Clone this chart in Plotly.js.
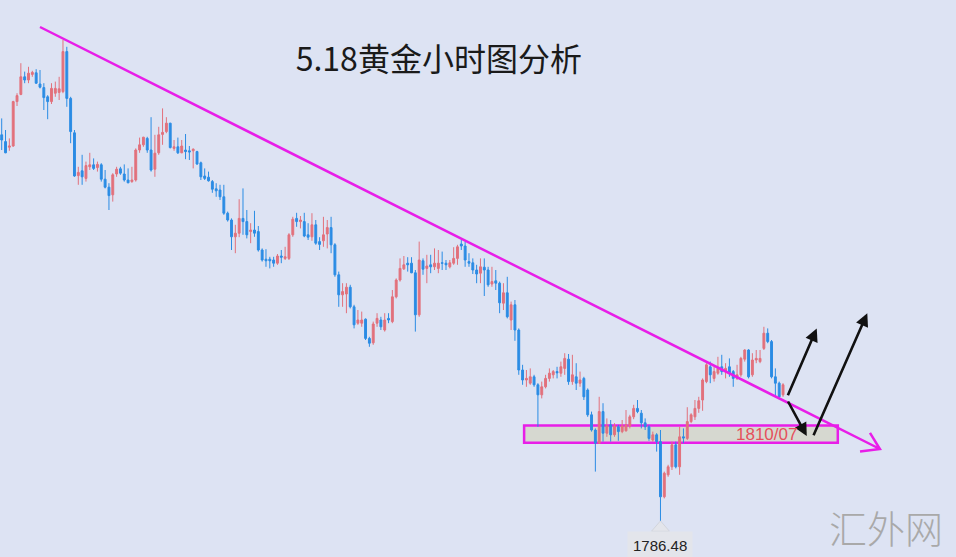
<!DOCTYPE html>
<html>
<head>
<meta charset="utf-8">
<script src="https://cdn.plot.ly/plotly-3.0.1.min.js"></script>
<style>
  html, body { margin: 0; padding: 0; background: #dde3f3; }
  #chart { width: 956px; height: 557px; }
</style>
</head>
<body>
<div id="chart"></div>
<script>
// Gold, hourly bars (bar index along x)
const barOpen = [
  1883.0,1881.3,1879.9,1880.2,1891.3,1893.1,1897.5,1896.7,1898.1,1898.5,
  1895.7,1894.8,1892.5,1891.3,1893.4,1893.6,1893.8,1903.8,1892.1,1883.5,
  1872.8,1874.0,1872.1,1875.0,1875.5,1874.8,1875.5,1871.9,1869.9,1868.0,
  1873.2,1874.5,1873.2,1871.7,1871.3,1871.7,1879.2,1880.5,1882.1,1879.2,
  1874.4,1878.5,1883.1,1883.8,1885.9,1879.6,1880.0,1878.5,1879.2,1879.0,
  1879.0,1878.8,1876.0,1872.7,1872.4,1871.3,1869.5,1869.2,1867.5,1863.4,
  1861.7,1857.5,1858.4,1862.1,1861.3,1858.8,1859.2,1858.8,1854.2,1851.9,
  1851.9,1851.7,1850.9,1852.7,1852.1,1852.1,1858.0,1862.1,1861.3,1861.3,
  1858.0,1857.5,1860.5,1856.3,1856.5,1858.2,1859.8,1855.5,1848.0,1843.0,
  1843.2,1844.9,1840.0,1835.9,1835.9,1836.9,1832.1,1831.0,1835.9,1836.7,
  1834.2,1837.1,1836.3,1842.5,1846.7,1849.5,1850.9,1850.9,1848.5,1838.0,
  1851.5,1849.6,1850.5,1850.0,1849.6,1851.0,1850.9,1850.0,1850.9,1852.1,
  1855.7,1855.2,1851.3,1851.0,1849.2,1848.4,1849.9,1849.2,1845.7,1846.5,
  1845.9,1840.9,1843.5,1836.7,1840.5,1834.2,1824.2,1821.7,1820.9,1822.5,
  1820.5,1818.0,1820.0,1822.1,1823.0,1823.8,1823.4,1824.6,1826.9,1821.3,
  1822.5,1820.9,1822.1,1819.2,1813.0,1809.2,1805.9,1813.8,1808.4,1810.5,
  1808.0,1810.0,1808.8,1809.0,1810.2,1812.5,1814.6,1813.4,1811.0,1810.0,
  1806.7,1808.0,1806.3,1792.5,1798.0,1800.0,1805.5,1800.0,1807.5,1807.1,
  1811.3,1812.5,1814.6,1816.7,1821.3,1825.0,1822.1,1823.4,1825.0,1823.8,
  1825.0,1823.8,1822.1,1823.0,1826.9,1829.2,1823.0,1826.7,1826.3,1829.6,
  1833.4,1831.3,1822.5,1820.9,1818.0
];
const barHigh = [
  1887.1,1884.2,1882.1,1891.5,1893.4,1900.9,1898.8,1900.0,1899.0,1899.4,
  1899.2,1895.9,1892.9,1895.9,1896.3,1897.5,1906.7,1905.0,1892.5,1884.2,
  1875.0,1878.0,1876.3,1878.5,1877.1,1876.3,1875.9,1874.2,1870.9,1873.4,
  1875.0,1875.0,1875.6,1874.6,1875.0,1879.6,1882.3,1882.5,1882.5,1887.4,
  1883.0,1885.0,1889.6,1887.4,1886.0,1881.7,1882.3,1881.7,1883.2,1880.2,
  1879.6,1879.0,1876.3,1874.6,1873.8,1871.7,1870.9,1870.5,1870.5,1863.8,
  1862.1,1860.5,1866.9,1869.6,1864.2,1860.9,1864.0,1860.2,1854.6,1854.4,
  1852.5,1852.5,1853.2,1854.2,1855.0,1858.4,1862.5,1863.5,1862.7,1863.5,
  1860.9,1863.4,1861.7,1857.4,1862.5,1861.7,1862.5,1855.9,1848.8,1845.9,
  1845.9,1845.5,1840.5,1839.2,1838.8,1837.1,1832.5,1836.3,1838.4,1837.5,
  1838.4,1838.4,1844.2,1847.1,1852.1,1852.7,1852.4,1852.4,1849.2,1856.3,
  1852.1,1853.0,1853.0,1854.6,1854.2,1853.8,1851.7,1851.7,1854.9,1855.5,
  1856.7,1856.3,1853.4,1852.1,1850.5,1852.1,1852.1,1850.0,1850.0,1849.2,
  1846.3,1845.9,1847.5,1841.3,1841.7,1834.6,1825.5,1824.2,1824.6,1823.0,
  1820.9,1821.3,1823.0,1824.6,1824.2,1825.0,1826.3,1828.4,1828.2,1828.0,
  1825.9,1823.8,1822.5,1819.6,1813.8,1809.6,1817.5,1815.9,1812.1,1811.7,
  1810.9,1810.5,1811.7,1814.2,1813.0,1815.5,1816.7,1814.2,1812.1,1810.5,
  1808.8,1808.4,1809.2,1798.8,1800.5,1806.3,1806.3,1810.0,1809.6,1814.9,
  1813.4,1816.7,1817.5,1822.1,1825.9,1826.3,1825.0,1827.5,1828.0,1825.9,
  1827.1,1824.2,1825.5,1827.5,1829.4,1829.4,1828.4,1829.2,1829.2,1835.0,
  1834.6,1831.7,1824.6,1821.3,1820.9
];
const barLow = [
  1879.2,1878.4,1879.0,1880.0,1890.2,1892.9,1895.9,1895.9,1897.5,1895.7,
  1894.6,1889.2,1886.9,1890.7,1892.5,1891.7,1893.4,1890.0,1880.9,1872.5,
  1870.5,1870.5,1871.3,1874.2,1874.2,1873.8,1871.3,1869.6,1864.2,1866.3,
  1872.5,1873.0,1871.3,1870.9,1871.0,1871.3,1878.5,1880.0,1878.5,1873.8,
  1872.5,1878.0,1880.5,1883.4,1879.6,1879.0,1878.2,1878.4,1876.9,1876.7,
  1874.6,1875.5,1871.7,1871.7,1871.3,1868.5,1867.5,1866.7,1863.0,1861.3,
  1854.2,1853.4,1857.4,1858.0,1857.1,1855.9,1857.5,1853.8,1851.3,1850.0,
  1849.6,1850.0,1850.5,1850.9,1851.7,1851.7,1857.5,1860.0,1859.6,1857.4,
  1856.7,1856.5,1855.5,1854.2,1855.0,1854.6,1853.4,1847.5,1840.0,1840.0,
  1838.4,1839.6,1834.6,1835.5,1835.0,1831.7,1830.0,1830.5,1835.0,1834.2,
  1833.8,1835.9,1835.9,1842.1,1846.3,1849.2,1848.8,1848.4,1833.8,1837.5,
  1848.0,1845.9,1848.4,1849.2,1848.4,1849.2,1849.2,1849.6,1850.5,1850.5,
  1854.2,1850.0,1850.0,1848.2,1845.9,1845.9,1842.7,1845.0,1845.0,1844.2,
  1838.4,1839.2,1837.1,1834.2,1831.5,1823.0,1820.5,1820.0,1820.5,1820.0,
  1810.0,1817.1,1819.6,1821.3,1822.1,1822.1,1822.5,1823.0,1820.5,1820.5,
  1819.2,1820.0,1816.7,1812.5,1808.8,1798.8,1805.7,1806.3,1807.5,1806.3,
  1807.5,1806.5,1808.4,1808.8,1809.6,1811.9,1813.4,1809.6,1809.2,1806.5,
  1806.3,1803.8,1786.48,1792.1,1797.5,1799.2,1799.6,1798.0,1805.9,1806.7,
  1810.9,1811.7,1813.5,1814.0,1820.9,1820.9,1821.3,1823.0,1823.0,1822.1,
  1822.5,1820.0,1821.7,1822.5,1826.3,1822.1,1822.5,1825.9,1825.9,1829.2,
  1830.9,1822.1,1817.5,1816.9,1817.5
];
const barClose = [
  1881.7,1878.5,1880.2,1891.3,1892.8,1897.5,1896.7,1898.4,1898.6,1895.9,
  1894.9,1892.3,1891.3,1894.6,1894.6,1894.5,1903.8,1892.1,1883.8,1872.7,
  1873.6,1872.5,1875.3,1875.5,1874.6,1875.6,1871.9,1869.9,1867.8,1873.0,
  1874.4,1873.4,1871.7,1871.0,1871.7,1879.2,1880.5,1882.4,1879.2,1874.2,
  1878.4,1883.0,1883.6,1885.9,1879.8,1880.0,1878.5,1880.2,1878.8,1878.7,
  1879.4,1875.7,1872.5,1872.1,1871.5,1869.4,1869.0,1867.5,1863.4,1861.7,
  1857.5,1858.4,1862.1,1861.3,1858.0,1859.2,1858.4,1854.2,1851.7,1851.5,
  1851.5,1850.9,1852.7,1852.4,1852.5,1858.0,1861.9,1861.3,1861.7,1857.7,
  1857.4,1860.5,1855.9,1855.6,1858.0,1859.8,1855.5,1848.0,1843.0,1843.8,
  1844.9,1840.0,1835.5,1836.7,1836.7,1832.1,1830.9,1835.7,1837.1,1835.0,
  1836.7,1836.7,1842.5,1846.7,1849.6,1850.5,1850.5,1848.5,1838.0,1851.7,
  1849.4,1850.2,1850.0,1850.9,1850.9,1850.9,1850.5,1851.0,1852.1,1855.0,
  1855.2,1851.7,1850.9,1849.2,1848.2,1850.0,1849.2,1845.5,1846.3,1845.9,
  1841.0,1843.5,1837.5,1840.5,1834.2,1824.2,1821.7,1822.1,1822.5,1820.5,
  1818.0,1820.0,1822.1,1823.4,1823.8,1823.5,1825.0,1827.1,1821.3,1823.0,
  1820.9,1821.7,1817.5,1813.0,1809.2,1805.9,1813.8,1808.4,1810.2,1808.0,
  1810.2,1808.8,1810.2,1810.5,1812.5,1814.6,1813.8,1811.0,1810.0,1807.1,
  1808.0,1806.3,1792.5,1798.4,1800.0,1805.5,1800.0,1807.5,1807.2,1811.3,
  1813.0,1814.6,1816.5,1821.7,1825.5,1823.0,1823.8,1824.6,1823.8,1824.6,
  1823.4,1822.1,1823.0,1827.1,1829.2,1822.5,1826.7,1827.1,1827.1,1833.4,
  1831.3,1822.5,1820.9,1817.5,1820.5
];
const barIndex = barOpen.map((_, i) => i);

// Analysis drawings (bar index, price)
const trendLine = [[10.0, 1909.95], [229.3, 1804.45]];
const trendHead = [[226.7, 1808.5], [224.1, 1803.8]];
const supportZone = { x: [136.4, 218.3], y: [1806.0, 1810.3] };
const supportLabel = '1810/07';
const supportLabelPos = [199.6, 1808.0];
// [tailX, tailY, headX, headY]
const scenarioArrows = [
  [205.1, 1817.5, 212.8, 1834.6],
  [205.1, 1816.7, 210.2, 1807.7],
  [211.8, 1807.5, 226.0, 1838.4]
];

const chartTitle = '5.18黄金小时图分析';
const siteMark = '汇外网';

const upColor = '#e2717c';
const downColor = '#2b8ce4';
const bg = '#dde3f3';
const magenta = '#e81ee8';

// lowest bar and its price tag
let lowIdx = 0;
barLow.forEach((v, i) => { if (v < barLow[lowIdx]) lowIdx = i; });
const lowVal = barLow[lowIdx];

const candles = {
  type: 'candlestick',
  x: barIndex, open: barOpen, high: barHigh, low: barLow, close: barClose,
  increasing: { line: { color: upColor, width: 1 }, fillcolor: upColor },
  decreasing: { line: { color: downColor, width: 1 }, fillcolor: downColor },
  whiskerwidth: 0,
  hoverinfo: 'skip',
  showlegend: false
};

const pt = p => p[0] + ',' + p[1];
const shapes = [
  {
    type: 'rect', xref: 'x', yref: 'y', layer: 'below',
    x0: supportZone.x[0], x1: supportZone.x[1], y0: supportZone.y[0], y1: supportZone.y[1],
    fillcolor: '#d6d8d0', line: { color: magenta, width: 2.5 }
  },
  {
    type: 'path', xref: 'x', yref: 'y', layer: 'above',
    path: 'M' + pt(trendLine[0]) + ' L' + pt(trendLine[1]) +
          ' M' + pt(trendHead[0]) + ' L' + pt(trendLine[1]) + ' L' + pt(trendHead[1]),
    line: { color: magenta, width: 2.5 }
  },
  {
    // pointer under the lowest bar
    type: 'path', xref: 'x', yref: 'y', layer: 'above',
    path: 'M' + (lowIdx - 2.35) + ',' + (lowVal - 2.6) + ' L' + lowIdx + ',' + lowVal +
          ' L' + (lowIdx + 2.35) + ',' + (lowVal - 2.6) + ' Z',
    fillcolor: '#e3e5eb', line: { color: '#d2d5dc', width: 1 }
  }
];

const annotations = scenarioArrows.map(a => ({
  x: a[2], y: a[3], ax: a[0], ay: a[1],
  xref: 'x', yref: 'y', axref: 'x', ayref: 'y',
  text: '', showarrow: true,
  arrowhead: 2, arrowsize: 1, arrowwidth: 2.6, arrowcolor: '#111111',
  standoff: 0, startstandoff: 0
}));

annotations.push({
  x: supportLabelPos[0], y: supportLabelPos[1], xref: 'x', yref: 'y',
  text: supportLabel, showarrow: false,
  font: { family: 'Liberation Sans, Arial, sans-serif', size: 17, color: '#e5505c' }
});

annotations.push({
  x: lowIdx, y: lowVal - 2.6, xref: 'x', yref: 'y',
  yanchor: 'top', xanchor: 'center',
  text: lowVal.toFixed(2), showarrow: false,
  bgcolor: '#e3e5eb', borderpad: 5,
  font: { family: 'Liberation Sans, Arial, sans-serif', size: 15, color: '#222222' }
});

annotations.push({
  x: 0.927, y: 0.054, xref: 'paper', yref: 'paper',
  xanchor: 'center', yanchor: 'middle',
  text: siteMark, showarrow: false,
  font: { family: 'Noto Sans CJK SC, sans-serif', size: 38, color: '#a9a9a9', weight: 300 }
});

const layout = {
  width: 956, height: 557,
  margin: { l: 0, r: 0, t: 0, b: 0 },
  paper_bgcolor: bg, plot_bgcolor: bg,
  title: {
    text: chartTitle, x: 0.459, xanchor: 'center', y: 0.892, yanchor: 'middle',
    font: { family: 'Noto Sans CJK SC, sans-serif', size: 32, color: '#1a1a1a' }
  },
  xaxis: { range: [-0.444, 249.16], visible: false, rangeslider: { visible: false }, fixedrange: true },
  yaxis: { range: [1777.45, 1916.7], visible: false, fixedrange: true },
  shapes: shapes,
  annotations: annotations,
  showlegend: false
};

Plotly.newPlot('chart', [candles], layout, { staticPlot: true, displayModeBar: false });
</script>
</body>
</html>
